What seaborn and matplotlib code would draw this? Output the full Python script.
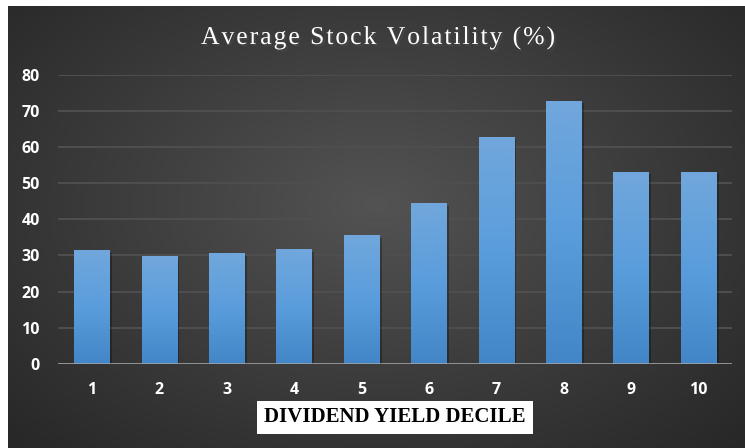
import numpy as np
import pandas as pd
import seaborn as sns
import matplotlib.pyplot as plt
import matplotlib.patheffects as pe
from matplotlib.colors import LinearSegmentedColormap

deciles = ['1', '2', '3', '4', '5', '6', '7', '8', '9', '10']
volatility = [31.5, 29.9, 30.7, 31.8, 35.7, 44.6, 62.9, 72.9, 53.2, 53.2]
y_ticks = [0, 10, 20, 30, 40, 50, 60, 70, 80]
title = 'Average Stock Volatility (%)'

df = pd.DataFrame({'decile': deciles, 'volatility': volatility})

sns.set_theme(style="dark")
plt.rcParams['font.family'] = ['Open Sans', 'DejaVu Sans']

W, H = 745, 448
fig = plt.figure(figsize=(W / 100, H / 100), dpi=100)
fig.patch.set_facecolor('white')

# radial gradient background panel
bg = fig.add_axes([8 / W, 0, 1 - 8 / W, 1 - 6 / H])
bg.set_axis_off()
yy, xx = np.mgrid[-1:1:300j, -1:1:500j]
r = np.sqrt((xx / 1.0) ** 2 + ((yy + 0.1) / 1.1) ** 2)
bg_cmap = LinearSegmentedColormap.from_list('bg', ['#535353', '#3c3c3c', '#262626'])
bg.imshow(r, cmap=bg_cmap, aspect='auto', vmin=0, vmax=1.45, extent=[0, 1, 0, 1])
bg.set_xlim(0, 1)
bg.set_ylim(0, 1)

ax = fig.add_axes([58 / W, 1 - 363.7 / H, 674 / W, (363.7 - 75) / H])
ax.patch.set_alpha(0)

sns.barplot(data=df, x='decile', y='volatility', color='#5b9bd5', width=0.52,
            saturation=1, linewidth=0, ax=ax, zorder=3)

bar_cmap = LinearSegmentedColormap.from_list('bar', ['#4386c7', '#5a9ddc', '#71a7dc'])
grad = np.linspace(0, 1, 256).reshape(-1, 1)
for p in ax.patches:
    p.set_path_effects([pe.SimplePatchShadow(offset=(2, -2), alpha=0.28, shadow_rgbFace='black'),
                        pe.Normal()])
    x0, y0, w, h = p.get_x(), p.get_y(), p.get_width(), p.get_height()
    im = ax.imshow(grad, cmap=bar_cmap, aspect='auto', origin='lower',
                   extent=[x0, x0 + w, y0, y0 + h], zorder=4)
    im.set_clip_path(p)

ax.set_xlim(-0.5, 9.5)
ax.set_ylim(0, 80)
ax.set_yticks(y_ticks)
ax.yaxis.grid(True, color='#4f4f4f', linewidth=1.4, zorder=0)
ax.xaxis.grid(False)
ax.axhline(0, color='#a6a6a6', linewidth=1.8, zorder=5)
for s in ax.spines.values():
    s.set_visible(False)

ax.tick_params(axis='both', length=0, labelcolor='white', labelsize=11.5)
ax.tick_params(axis='x', pad=13)
ax.tick_params(axis='y', pad=13)
for lbl in ax.get_xticklabels() + ax.get_yticklabels():
    lbl.set_fontweight('bold')

ax.set_ylabel('')
ax.set_xlabel('DIVIDEND YIELD DECILE', family=['Liberation Serif', 'DejaVu Serif'],
              fontsize=15, fontweight='bold', color='black', labelpad=7,
              bbox=dict(facecolor='white', edgecolor='none', pad=5))

# letter-spaced title, one glyph at a time
renderer = fig.canvas.get_renderer()
title_kw = dict(family=['Liberation Serif', 'DejaVu Serif'], fontsize=18.5, color='white',
                va='center', ha='left',
                path_effects=[pe.withSimplePatchShadow(offset=(1.5, -1.5), alpha=0.6)])
spacing = 1.9
widths = []
for ch in title:
    t = fig.text(0, 0, ch if ch != ' ' else 'n', **title_kw)
    wpx = t.get_window_extent(renderer).width
    widths.append(wpx * 0.5 if ch == ' ' else wpx)
    t.remove()
total = sum(widths) + spacing * (len(title) - 1)
x = 378 - total / 2
for ch, wpx in zip(title, widths):
    if ch != ' ':
        fig.text(x / W, 1 - 38 / H, ch, **title_kw)
    x += wpx + spacing

fig.savefig('out.png', dpi=100, facecolor=fig.get_facecolor())
